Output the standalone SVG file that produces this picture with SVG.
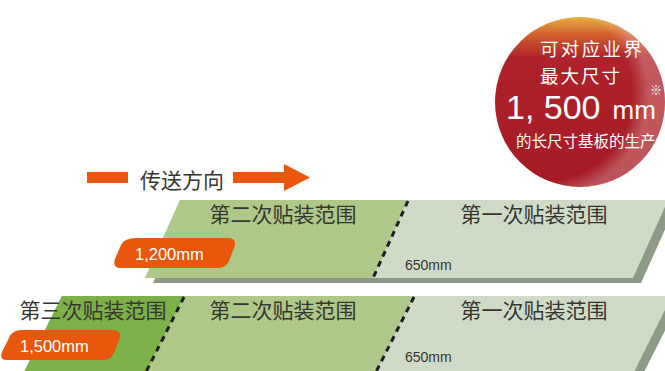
<svg xmlns="http://www.w3.org/2000/svg" width="665" height="371" viewBox="0 0 665 371">
<defs>
<linearGradient id="ball" x1="0" y1="0" x2="0" y2="1">
<stop offset="0" stop-color="#e8b040"/>
<stop offset="0.1" stop-color="#d2612c"/>
<stop offset="0.24" stop-color="#b0222a"/>
<stop offset="1" stop-color="#a41b23"/>
</linearGradient>
<radialGradient id="shine" cx="0.3" cy="0.45" r="0.6">
<stop offset="0.85" stop-color="#ffffff" stop-opacity="0"/>
<stop offset="1" stop-color="#ffffff" stop-opacity="0.25"/>
</radialGradient>
</defs>
<style>
.t{font-family:"Noto Sans CJK SC","Noto Sans",sans-serif;fill:#363630;font-size:21px}
.w{font-family:"Noto Sans CJK SC","Noto Sans",sans-serif;fill:#ffffff}
.n{font-family:"Liberation Sans","Noto Sans",sans-serif}
.dash{stroke:#1e1e1e;stroke-width:3;stroke-dasharray:6 5;fill:none}
.side{fill:#8d9a86}
.c1{fill:#cfdbc6}
.c2{fill:#adc889}
.c3{fill:#7cb14a}
.orange{fill:#e8570c}
</style>
<rect width="665" height="371" fill="#ffffff"/>

<g id="direction">
<rect class="orange" x="87" y="172" width="41" height="11"/>
<text class="t" x="140" y="188" font-size="20.5">传送方向</text>
<polygon class="orange" points="233,172 284,172 284,164 310,177.5 284,191 284,183 233,183"/>
</g>

<g id="panel-top">
<polygon class="side" points="188,205 676,205 641,283 153,283"/>
<polygon class="c1" points="180,200 668,200 633,278 145,278"/>
<polygon class="c2" points="180,200 408,200 373,278 145,278"/>
<line class="dash" x1="408" y1="201" x2="373" y2="278"/>
<text class="t" x="283" y="222" text-anchor="middle">第二次贴装范围</text>
<text class="t" x="534" y="222" text-anchor="middle">第一次贴装范围</text>
<text class="n" x="405" y="270" font-size="14" fill="#363630">650mm</text>
</g>

<g id="label-1200">
<path class="orange" d="M137,238 L227,238 Q238,238 234,248 L229,261 Q226,268 218,268 L121,268 Q112,268 115,259 L121,245 Q124,238 137,238 Z"/>
<text class="w n" x="135" y="260" font-size="16.5">1,200mm</text>
</g>

<g id="panel-bottom">
<polygon class="side" points="70,301 680,301 642,376 32,376"/>
<polygon class="c1" points="62,296 672,296 634.5,371 24.5,371"/>
<polygon class="c2" points="62,296 414,296 376.5,371 24.5,371"/>
<polygon class="c3" points="62,296 184,296 146.5,371 24.5,371"/>
<line class="dash" x1="184" y1="297" x2="146.5" y2="371"/>
<line class="dash" x1="414" y1="297" x2="376.5" y2="371"/>
<text class="t" x="93" y="318" text-anchor="middle">第三次贴装范围</text>
<text class="t" x="283" y="318" text-anchor="middle">第二次贴装范围</text>
<text class="t" x="534" y="318" text-anchor="middle">第一次贴装范围</text>
<text class="n" x="405" y="362" font-size="14" fill="#363630">650mm</text>
</g>

<g id="label-1500">
<path class="orange" d="M22,330 L112,330 Q123,330 119,340 L114,353 Q111,360 103,360 L7,360 Q-1,360 2,352 L9,338 Q12,330 22,330 Z"/>
<text class="w n" x="20" y="352" font-size="16.5">1,500mm</text>
</g>

<g id="badge">
<circle cx="580" cy="102" r="85" fill="url(#ball)"/>
<circle cx="580" cy="102" r="85" fill="url(#shine)"/>
<text class="w" x="540" y="56" font-size="18.5" textLength="102">可对应业界</text>
<text class="w" x="540" y="83" font-size="18.5" textLength="80">最大尺寸</text>
<text class="w" x="650" y="95" font-size="12">※</text>
<text class="w n" x="506" y="119"><tspan font-size="34">1, 500</tspan><tspan font-size="26" dx="12">mm</tspan></text>
<text class="w" x="516" y="147" font-size="15.5">的长尺寸基板的生产</text>
</g>
</svg>
